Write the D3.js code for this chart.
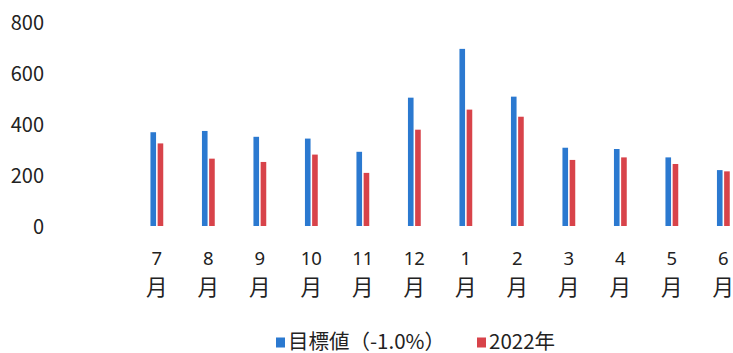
<!DOCTYPE html>
<html>
<head>
<meta charset="utf-8">
<script src="https://cdn.jsdelivr.net/npm/d3@7"></script>
<style>
  html, body { margin: 0; padding: 0; background: #fff; }
  svg { display: block; }
  text { font-family: "Noto Sans CJK JP", "Noto Sans", sans-serif; fill: #222; }
</style>
</head>
<body>
<svg id="chart" width="733" height="353"></svg>
<script>
// Monthly categories (fiscal year, July to June)
const months = ["7", "8", "9", "10", "11", "12", "1", "2", "3", "4", "5", "6"];
// Series values
const target = [369, 374, 351, 344, 292, 505, 697, 509, 308, 303, 270, 220];
const actual2022 = [325, 265, 252, 281, 209, 379, 458, 430, 260, 270, 244, 215];
const seriesNames = ["目標値（-1.0%）", "2022年"];
const seriesColors = ["#2b79d0", "#d8434a"];
// Y axis ticks
const yTicks = [0, 200, 400, 600, 800];

const svg = d3.select("#chart");

const y = d3.scaleLinear().domain([0, 800]).range([226, 22.7]);
const x = d3.scaleBand().domain(months).range([131, 749]).paddingInner(0).paddingOuter(0);
const x1 = d3.scaleBand().domain([0, 1]).range([-6.3, 6.5]).paddingInner(0.22);

// Y axis labels (no axis line, no gridlines)
const yAxis = d3.axisLeft(y).tickValues(yTicks).tickSize(0).tickPadding(0);
const gy = svg.append("g").attr("transform", "translate(44,0)").call(yAxis);
gy.select(".domain").remove();
gy.selectAll("text")
  .attr("font-size", 20)
  .attr("font-family", "'Noto Sans', 'DejaVu Sans', sans-serif")
  .attr("fill", "#222")
  .attr("dy", "0.35em");

// Bars
const series = [target, actual2022];
series.forEach((vals, si) => {
  svg.append("g")
    .selectAll("rect")
    .data(vals)
    .join("rect")
    .attr("x", (d, i) => x(months[i]) + x.bandwidth() / 2 + x1(si))
    .attr("width", x1.bandwidth())
    .attr("y", d => y(d))
    .attr("height", d => y(0) - y(d))
    .attr("fill", seriesColors[si]);
});

// X labels: number on the first line, 月 on the second
const xl = svg.append("g");
months.forEach(m => {
  const cx = x(m) + x.bandwidth() / 2;
  const t = xl.append("text")
    .attr("text-anchor", "middle");
  t.append("tspan").attr("x", cx).attr("y", 265)
    .attr("font-size", 18.5)
    .attr("font-family", "'Noto Sans', sans-serif").text(m);
  t.append("tspan").attr("x", cx).attr("y", 295)
    .attr("font-size", 21.5).text("月");
});

// Legend
const legend = svg.append("g");
const legendItems = [
  { sx: 276, tx: 288 },
  { sx: 477, tx: 489 }
];
seriesNames.forEach((name, i) => {
  legend.append("rect")
    .attr("x", legendItems[i].sx).attr("y", 337.5)
    .attr("width", 9).attr("height", 10)
    .attr("fill", seriesColors[i]);
  legend.append("text")
    .attr("x", legendItems[i].tx).attr("y", 348.5)
    .attr("font-size", 20.5)
    .text(name);
});
</script>
</body>
</html>
